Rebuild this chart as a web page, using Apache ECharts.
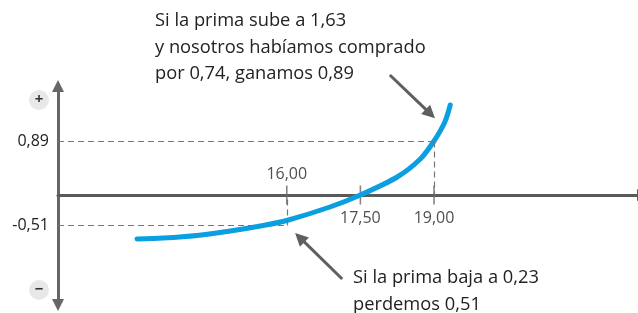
<!DOCTYPE html>
<html>
<head>
<meta charset="utf-8">
<script src="https://cdn.jsdelivr.net/npm/echarts@6/dist/echarts.min.js"></script>
<style>
html,body{margin:0;padding:0;background:#fff;}
#c{width:638px;height:313px;}
</style>
</head>
<body>
<div id="c"></div>
<script>
// ---- data ----
const curveX = [12.95, 13.48, 14.17, 14.85, 15.52, 16.0, 16.88, 17.5, 18.25, 18.72, 19.0, 19.22, 19.33];
const curveY = [-0.733, -0.717, -0.675, -0.6, -0.508, -0.425, -0.2, 0, 0.3, 0.6, 0.9, 1.217, 1.5];
const xTicks = [16, 17.5, 19];
const xTickLabelSide = ['top', 'bottom', 'bottom'];
const yLevels = [0.89, -0.51];
const signMarks = [1.583, -1.583];
const refPoints = [[19, 0.89], [16, -0.51]];
const arrowTop = [[18.10, 2.0], [19.02, 1.278]];
const arrowBottom = [[17.13, -1.4], [16.17, -0.633]];
const noteTop = ['Si la prima sube a 1,63', 'y nosotros habíamos comprado', 'por 0,74, ganamos 0,89'];
const noteBottom = ['Si la prima baja a 0,23', 'perdemos 0,51'];

const xMin = 11.34, xMax = 23.257, yMin = -1.8333, yMax = 1.8167;
const FONT = '"Open Sans", "Noto Sans", sans-serif';
const fmt = v => v.toFixed(2).replace('.', ',');

const chart = echarts.init(document.getElementById('c'), null, {renderer: 'canvas'});

const dashed = [];
refPoints.forEach(p => {
  dashed.push([{coord: [xMin, p[1]]}, {coord: [p[0], p[1]]}]);
  dashed.push([{coord: [p[0], p[1]]}, {coord: [p[0], 0]}]);
});

chart.setOption({
  animation: false,
  backgroundColor: '#fff',
  grid: {left: 58, right: -5, top: 86, bottom: 8, outerBoundsMode: 'none', containLabel: false},
  xAxis: {
    type: 'value', min: xMin, max: xMax, position: 'bottom',
    axisLine: {show: true, onZero: true, lineStyle: {color: '#5a5a5a', width: 3},
      symbol: ['none', 'triangle'], symbolSize: [12, 12]},
    axisTick: {show: false},
    axisLabel: {show: false},
    splitLine: {show: false}
  },
  yAxis: {
    type: 'value', min: yMin, max: yMax, position: 'left',
    axisLine: {show: true, onZero: false, lineStyle: {color: '#666', width: 3},
      symbol: ['triangle', 'triangle'], symbolSize: [12, 12]},
    axisTick: {show: false},
    axisLabel: {show: true, customValues: yLevels.concat(signMarks), margin: 9, fontSize: 16,
      color: '#222', fontFamily: FONT,
      formatter: v => {
        if (Math.abs(v - signMarks[0]) < 1e-6) return '{pm|+}';
        if (Math.abs(v - signMarks[1]) < 1e-6) return '{pm|\u2212}';
        return fmt(v);
      },
      rich: {pm: {width: 20, height: 20, lineHeight: 20, borderRadius: 10, backgroundColor: '#e8e8e8',
        align: 'center', fontSize: 15, fontWeight: 'bold', color: '#333', fontFamily: FONT}}
    },
    splitLine: {show: false}
  },
  series: [{
    type: 'line', data: [], z: 1, silent: true,
    markLine: {silent: true, symbol: 'none', animation: false,
      lineStyle: {color: '#777', width: 1.2, type: [6, 4]}, label: {show: false},
      data: dashed}
  }, {
    type: 'scatter', z: 2, silent: true,
    symbol: 'rect', symbolSize: [1.6, 19],
    itemStyle: {color: '#666'},
    data: xTicks.map((v, i) => ({
      value: [v, 0],
      label: {show: true, position: xTickLabelSide[i], distance: xTickLabelSide[i] === 'top' ? 3 : 6,
        formatter: fmt(v), fontSize: 16, color: '#222', fontFamily: FONT}
    }))
  }, {
    type: 'line', z: 3, silent: true, smooth: 0.3, showSymbol: false,
    data: curveX.map((x, i) => [x, curveY[i]]),
    lineStyle: {color: '#0a9fe0', width: 5, cap: 'round'}
  }]
});

// annotation arrows, positioned through the chart's own scales
function arrowGraphic(pts) {
  const a = chart.convertToPixel({gridIndex: 0}, pts[0]);
  const b = chart.convertToPixel({gridIndex: 0}, pts[1]);
  const dx = b[0] - a[0], dy = b[1] - a[1], L = Math.hypot(dx, dy);
  const ux = dx / L, uy = dy / L, nx = -uy, ny = ux;
  const hl = 13, hw = 6.5;
  const bx = b[0] - ux * hl, by = b[1] - uy * hl;
  return [{
    type: 'line', silent: true, z: 10,
    shape: {x1: a[0], y1: a[1], x2: bx + ux * 2, y2: by + uy * 2},
    style: {stroke: '#5f5f5f', lineWidth: 3}
  }, {
    type: 'polygon', silent: true, z: 10,
    shape: {points: [[b[0], b[1]], [bx + nx * hw, by + ny * hw], [bx - nx * hw, by - ny * hw]]},
    style: {fill: '#5f5f5f'}
  }];
}

chart.setOption({
  graphic: [{
    type: 'text', left: 155, top: 8,
    style: {text: noteTop.join('\n'), fontSize: 18.3, lineHeight: 26.5, fill: '#222', fontFamily: FONT}
  }, {
    type: 'text', left: 353, top: 265,
    style: {text: noteBottom.join('\n'), fontSize: 18.3, lineHeight: 26.5, fill: '#222', fontFamily: FONT}
  }].concat(arrowGraphic(arrowTop), arrowGraphic(arrowBottom))
});
</script>
</body>
</html>
